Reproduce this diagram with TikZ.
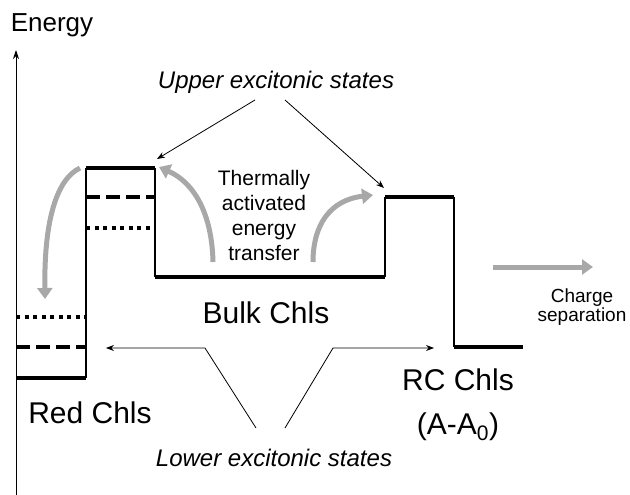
\documentclass[tikz,border=0pt]{standalone}
\usepackage{fontspec}
\setmainfont{Liberation Sans}
\usetikzlibrary{arrows.meta}
\definecolor{arrowgray}{RGB}{168,168,168}
\begin{document}
\begin{tikzpicture}[x=1pt,y=-1pt,
  level/.style={line width=4pt},
  wall/.style={line width=1.3pt},
  dashlevel/.style={line width=4pt, dash pattern=on 14pt off 6pt},
  dotlevel/.style={line width=4pt, dash pattern=on 4pt off 4.5pt},
  grayarrow/.style={draw=arrowgray, line width=5pt, -{Triangle[length=11pt,width=15pt]}},
  thinarrow/.style={line width=0.8pt, -{Stealth[length=8pt,width=6pt]}},
  axisarrow/.style={line width=1pt, -{Stealth[length=9pt,width=6pt]}},
  biglbl/.style={inner sep=0pt, font=\fontsize{30}{44}\selectfont, align=center},
  itlbl/.style={inner sep=0pt, font=\itshape\fontsize{24}{28}\selectfont},
  smalllbl/.style={inner sep=0pt, align=center},
]
\useasboundingbox (0,0) rectangle (630,495);

% axis
\coordinate (axbot) at (16,495);
\coordinate (axtop) at (16,50);
\draw[axisarrow] (axbot) -- (axtop);
\node[inner sep=0pt, font=\fontsize{26}{30}\selectfont] (energy) at (52,25) {Energy};

% energy level corners
\coordinate (r0) at (16,378);  \coordinate (r1) at (86,378);
\coordinate (rd0) at (16,347); \coordinate (rd1) at (86,347);
\coordinate (rt0) at (16,317); \coordinate (rt1) at (86,317);
\coordinate (u0) at (86,168);  \coordinate (u1) at (155,168);
\coordinate (ud0) at (86,197); \coordinate (ud1) at (155,197);
\coordinate (ut0) at (86,228); \coordinate (ut1) at (155,228);
\coordinate (b0) at (155,277); \coordinate (b1) at (385,277);
\coordinate (c0) at (385,197); \coordinate (c1) at (454,197);
\coordinate (d0) at (454,347); \coordinate (d1) at (523,347);

% walls
\draw[wall] (u0) -- (r1);
\draw[wall] (u1) -- (b0);
\draw[wall] (b1) -- (c0);
\draw[wall] (c1) -- (d0);

% levels
\draw[level] (r0) -- (r1);
\draw[dashlevel] (rd0) -- (rd1);
\draw[dotlevel] (rt0) -- (rt1);
\draw[level] (u0) -- (u1);
\draw[dashlevel] (ud0) -- (ud1);
\draw[dotlevel] (ut0) -- (ut1);
\draw[level] (b0) -- (b1);
\draw[level] (c0) -- (c1);
\draw[level] (d0) -- (d1);

% labels
\node[itlbl] (upper) at (276,82) {Upper excitonic states};
\node[smalllbl, font=\fontsize{21}{25}\selectfont] (thermal) at (264,215) {Thermally\\activated\\energy\\transfer};
\node[biglbl] (bulk) at (266,313) {Bulk Chls};
\node[biglbl] (red) at (90,413) {Red Chls};
\node[biglbl] (rc) at (458,405) {RC Chls\\(A-A\textsubscript{0})};
\node[itlbl] (lower) at (274,458) {Lower excitonic states};
\node[smalllbl, font=\fontsize{19}{19}\selectfont] (charge) at (582,307) {Charge\\separation};

% upper arrows
\coordinate (uL) at (255,100);
\coordinate (uR) at (285,100);
\coordinate (uLtip) at (157,159);
\coordinate (uRtip) at (384,188);
\draw[thinarrow] (uL) -- (uLtip);
\draw[thinarrow] (uR) -- (uRtip);

% lower arrows
\coordinate (lL) at (256,428);
\coordinate (lLb) at (205,348);
\coordinate (lLtip) at (106,348);
\coordinate (lR) at (285,428);
\coordinate (lRb) at (333,348);
\coordinate (lRtip) at (434,348);
\draw[thinarrow] (lL) -- (lLb) -- (lLtip);
\draw[thinarrow] (lR) -- (lRb) -- (lRtip);

% gray arrows
\coordinate (g1s) at (80,168);
\coordinate (g1e) at (45,299);
\draw[grayarrow] (g1s) .. controls (55,180) and (44,225) .. (g1e);
\coordinate (g2s) at (213,262);
\coordinate (g2e) at (159,167);
\draw[grayarrow] (g2s) .. controls (212,215) and (195,183) .. (g2e);
\coordinate (g3s) at (313,262);
\coordinate (g3e) at (373,195);
\draw[grayarrow] (g3s) .. controls (313,225) and (330,200) .. (g3e);
\coordinate (g4s) at (493,267);
\coordinate (g4e) at (593,267);
\draw[grayarrow] (g4s) -- (g4e);
\end{tikzpicture}
\end{document}
